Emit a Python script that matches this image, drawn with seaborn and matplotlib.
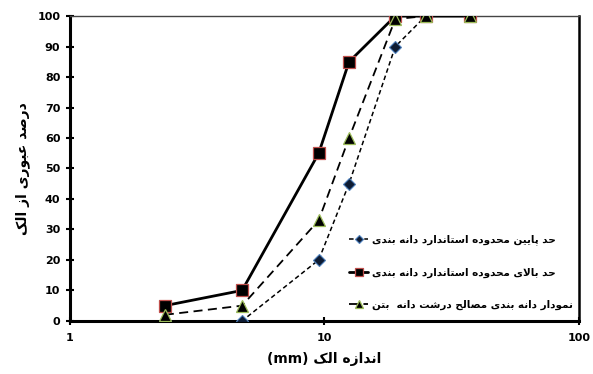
import matplotlib
matplotlib.use("Agg")
import matplotlib.pyplot as plt
import seaborn as sns
import pandas as pd

# Sieve sizes (mm) and percent passing
sieve_mm = [2.36, 4.75, 9.5, 12.5, 19, 25, 37.5]
lower_limit = [0, 0, 20, 45, 90, 100, 100]
upper_limit = [5, 10, 55, 85, 100, 100, 100]
aggregate = [2, 5, 33, 60, 99, 100, 100]

label_lower = "حد پایین محدوده استاندارد دانه بندی"
label_upper = "حد بالای محدوده استاندارد دانه بندی"
label_agg = "نمودار دانه بندی مصالح درشت دانه  بتن"
xlabel_fa = "اندازه الک"
ylabel_fa = "درصد عبوری از الک"

# Persian contextual forms: isolated, final, initial, medial
FORMS = {
    "ا": (0xFE8D, 0xFE8E, None, None),
    "ب": (0xFE8F, 0xFE90, 0xFE91, 0xFE92),
    "پ": (0xFB56, 0xFB57, 0xFB58, 0xFB59),
    "ت": (0xFE95, 0xFE96, 0xFE97, 0xFE98),
    "ح": (0xFEA1, 0xFEA2, 0xFEA3, 0xFEA4),
    "د": (0xFEA9, 0xFEAA, None, None),
    "ر": (0xFEAD, 0xFEAE, None, None),
    "ز": (0xFEAF, 0xFEB0, None, None),
    "س": (0xFEB1, 0xFEB2, 0xFEB3, 0xFEB4),
    "ش": (0xFEB5, 0xFEB6, 0xFEB7, 0xFEB8),
    "ص": (0xFEB9, 0xFEBA, 0xFEBB, 0xFEBC),
    "ع": (0xFEC9, 0xFECA, 0xFECB, 0xFECC),
    "ل": (0xFEDD, 0xFEDE, 0xFEDF, 0xFEE0),
    "م": (0xFEE1, 0xFEE2, 0xFEE3, 0xFEE4),
    "ن": (0xFEE5, 0xFEE6, 0xFEE7, 0xFEE8),
    "ه": (0xFEE9, 0xFEEA, 0xFEEB, 0xFEEC),
    "و": (0xFEED, 0xFEEE, None, None),
    "ی": (0xFBFC, 0xFBFD, 0xFBFE, 0xFBFF),
    "ک": (0xFB8E, 0xFB8F, 0xFB90, 0xFB91),
    "LA": (0xFEFB, 0xFEFC, None, None),
}


def dual(tok):
    return tok in FORMS and FORMS[tok][2] is not None


def shape(text):
    """Join Persian letters and return them in visual (left-to-right) order."""
    toks = []
    i = 0
    while i < len(text):
        if text[i] == "ل" and i + 1 < len(text) and text[i + 1] == "ا":
            toks.append("LA")
            i += 2
        else:
            toks.append(text[i])
            i += 1
    out = []
    for k, t in enumerate(toks):
        if t not in FORMS:
            out.append(t)
            continue
        prev_j = k > 0 and dual(toks[k - 1])
        next_j = dual(t) and k + 1 < len(toks) and toks[k + 1] in FORMS
        iso, fin, ini, med = FORMS[t]
        if prev_j and next_j:
            cp = med
        elif prev_j:
            cp = fin
        elif next_j:
            cp = ini
        else:
            cp = iso
        out.append(chr(cp))
    return "".join(reversed(out))


sns.set_theme(style="white")
plt.rcParams["font.family"] = ["DejaVu Sans"]
plt.rcParams.update({"text.color": "black", "axes.labelcolor": "black",
                     "xtick.color": "black", "ytick.color": "black"})

fig = plt.figure(figsize=(5.93, 3.74), dpi=100)
ax = fig.add_axes([0.118, 0.142, 0.858, 0.815])

df = pd.DataFrame({"size": sieve_mm, "lower": lower_limit,
                   "upper": upper_limit, "agg": aggregate})

sns.lineplot(data=df, x="size", y="lower", ax=ax, color="black", lw=1.1,
             linestyle=(0, (3, 2)), marker="D", markersize=6.5,
             markerfacecolor="#0d1b33", markeredgecolor="#4f81bd",
             markeredgewidth=0.8, label=shape(label_lower), zorder=3)
sns.lineplot(data=df, x="size", y="upper", ax=ax, color="black", lw=2.0,
             linestyle="-", marker="s", markersize=8.5,
             markerfacecolor="black", markeredgecolor="#c0504d",
             markeredgewidth=0.9, label=shape(label_upper), zorder=4)
sns.lineplot(data=df, x="size", y="agg", ax=ax, color="black", lw=1.3,
             linestyle=(0, (5, 3)), marker="^", markersize=8.5,
             markerfacecolor="black", markeredgecolor="#9bbb59",
             markeredgewidth=0.9, label=shape(label_agg), zorder=5)

ax.set_xscale("log")
ax.set_xlim(1, 100)
ax.set_ylim(0, 100)
ax.set_xticks([1, 10, 100])
ax.set_xticklabels(["1", "10", "100"])
ax.minorticks_off()
ax.set_yticks(range(0, 101, 10))

for lab in ax.get_xticklabels() + ax.get_yticklabels():
    lab.set_fontweight("bold")
    lab.set_fontsize(8)
    lab.set_color("black")

ax.tick_params(axis="both", direction="inout", length=6, width=1.5,
               color="black", pad=4, bottom=True, left=True)
ax.tick_params(axis="x", pad=6)

for side in ["left", "bottom"]:
    ax.spines[side].set_color("black")
    ax.spines[side].set_linewidth(2.2)
ax.spines["top"].set_color("#444444")
ax.spines["top"].set_linewidth(1.0)
ax.spines["right"].set_color("black")
ax.spines["right"].set_linewidth(1.8)

ax.set_xlabel("(mm) " + shape(xlabel_fa), fontsize=10, fontweight="bold",
              labelpad=6, color="black")
ax.set_ylabel(shape(ylabel_fa), fontsize=10, fontweight="bold", labelpad=5,
              color="black")

leg = ax.legend(loc="lower left", bbox_to_anchor=(0.545, 0.028),
                frameon=False, handlelength=1.8, handletextpad=0.4,
                labelspacing=2.15, borderpad=0.2, borderaxespad=0.0,
                markerscale=0.65, prop={"weight": "bold", "size": 7.5})
for t in leg.get_texts():
    t.set_color("black")

fig.savefig("out.png", dpi=100)
